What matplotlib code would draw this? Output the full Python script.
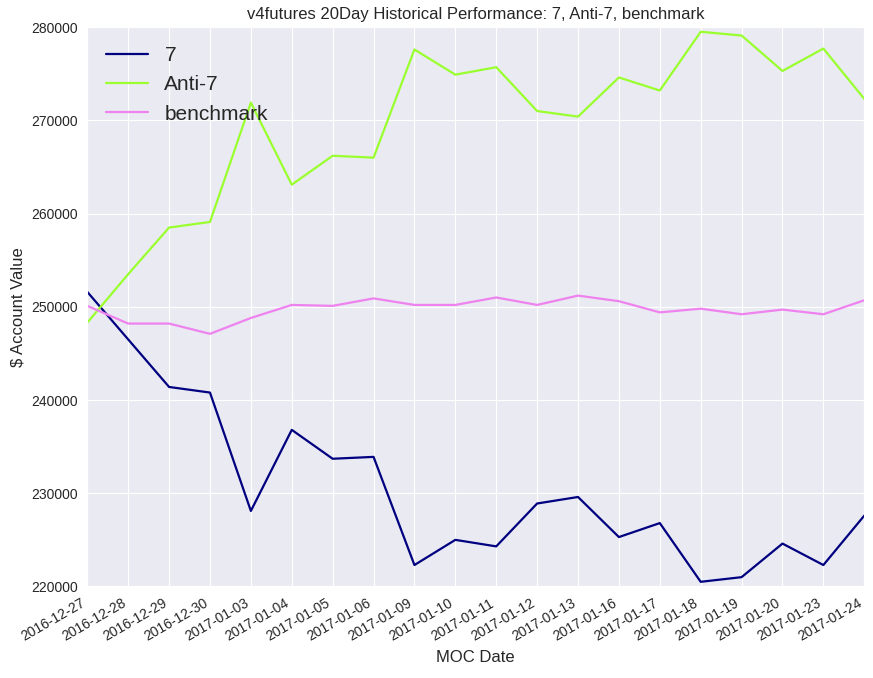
import matplotlib
matplotlib.use("Agg")
import matplotlib.pyplot as plt
import seaborn as sns

dates = ["2016-12-27", "2016-12-28", "2016-12-29", "2016-12-30", "2017-01-03",
         "2017-01-04", "2017-01-05", "2017-01-06", "2017-01-09", "2017-01-10",
         "2017-01-11", "2017-01-12", "2017-01-13", "2017-01-16", "2017-01-17",
         "2017-01-18", "2017-01-19", "2017-01-20", "2017-01-23", "2017-01-24"]
seven = [251600, 246500, 241400, 240800, 228100, 236800, 233700, 233900, 222300, 225000,
         224300, 228900, 229600, 225300, 226800, 220500, 221000, 224600, 222300, 227600]
anti_seven = [248300, 253500, 258500, 259100, 271900, 263100, 266200, 266000, 277600, 274900,
              275700, 271000, 270400, 274600, 273200, 279500, 279100, 275300, 277700, 272300]
benchmark = [250100, 248200, 248200, 247100, 248800, 250200, 250100, 250900, 250200, 250200,
             251000, 250200, 251200, 250600, 249400, 249800, 249200, 249700, 249200, 250700]

sns.set_style("darkgrid")
plt.rcParams["font.family"] = ["Arial", "Liberation Sans", "DejaVu Sans"]

fig, ax = plt.subplots(figsize=(8.73, 6.78), dpi=100)
x = range(len(dates))
ax.plot(x, seven, color="navy", lw=1.6, label="7")
ax.plot(x, anti_seven, color="#9aff2e", lw=1.6, label="Anti-7")
ax.plot(x, benchmark, color="violet", lw=1.6, label="benchmark")

ax.set_xlim(0, len(dates) - 1)
ax.set_ylim(220000, 280000)
ax.set_xticks(list(x))
ax.set_xticklabels(dates, rotation=30, ha="right")
ax.tick_params(labelsize=10)
ax.set_xlabel("MOC Date", fontsize=12)
ax.set_ylabel("$ Account Value", fontsize=12)
ax.set_title("v4futures 20Day Historical Performance: 7, Anti-7, benchmark", fontsize=12)
ax.legend(loc="upper left", fontsize=15, frameon=False)

fig.subplots_adjust(left=0.10, right=0.99, top=0.96, bottom=0.135)
plt.savefig("out.png")
plt.close()
